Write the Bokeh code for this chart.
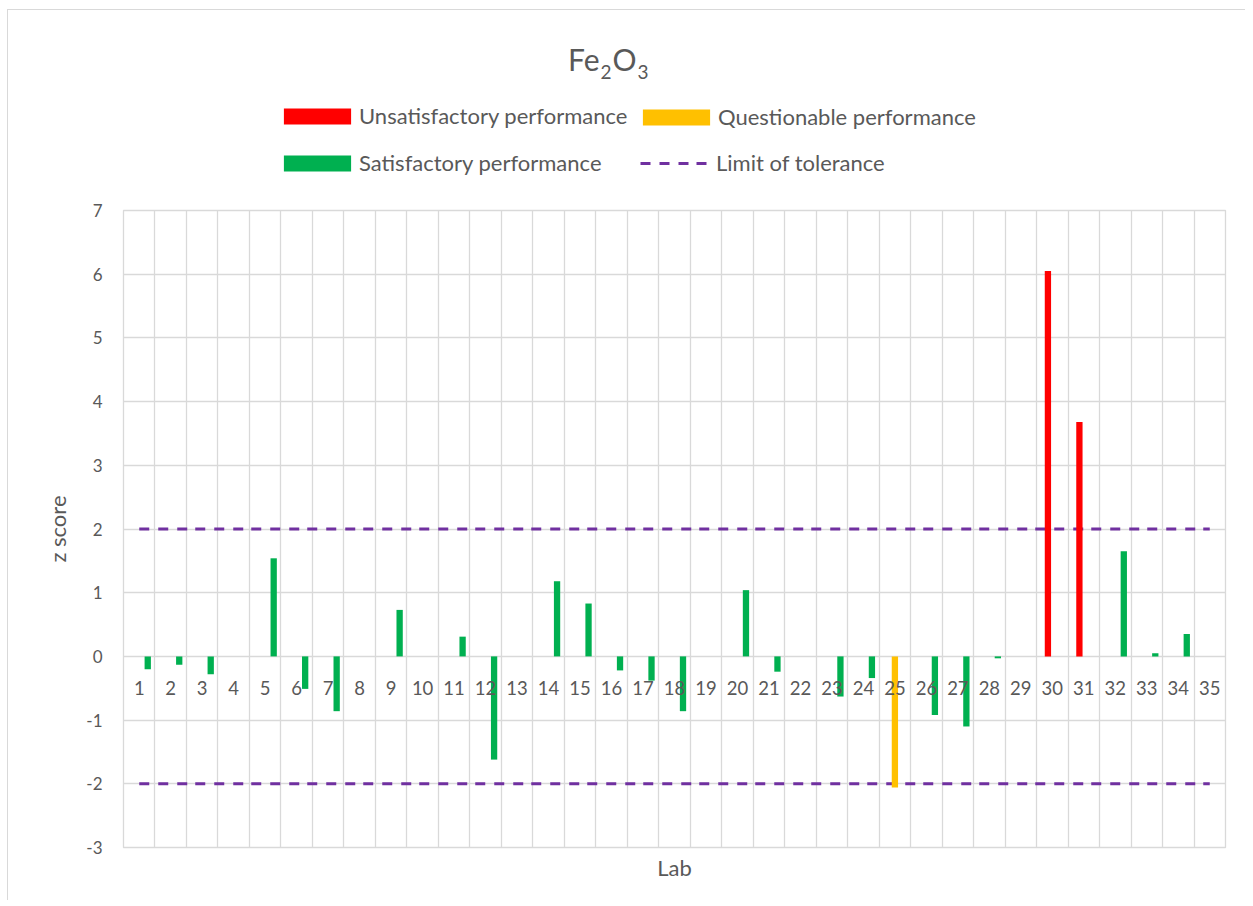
import math
from bokeh.plotting import figure
from bokeh.layouts import column
from bokeh.models import (Range1d, FixedTicker, Legend, LegendItem, Div,
                          ColumnDataSource)
from bokeh.transform import dodge
from bokeh.core.properties import value
from bokeh.embed import file_html
from bokeh.resources import INLINE

# ---------------- data ----------------
labs = list(range(1, 36))
lab_labels = [str(i) for i in labs]
z_scores = [-0.20, -0.13, -0.28, None, 1.54, -0.51, -0.86, None, 0.73, None,
            0.31, -1.62, None, 1.18, 0.83, -0.22, -0.38, -0.86, None, 1.04,
            -0.24, None, -0.63, -0.34, -2.06, -0.92, -1.10, -0.03, None, 6.05,
            3.68, 1.65, 0.05, 0.35, None]
tolerance_limits = [2, -2]
y_ticks = [-3, -2, -1, 0, 1, 2, 3, 4, 5, 6, 7]
y_tick_labels = ["-3", "-2", "-1", "0", "1", "2", "3", "4", "5", "6", "7"]
series_names = ["Unsatisfactory performance", "Questionable performance",
                "Satisfactory performance"]
limit_name = "Limit of tolerance"


def status(z):
    if z is None:
        return None
    a = abs(z)
    if a >= 3:
        return 0
    if a > 2:
        return 1
    return 2


series_values = [[z if status(z) == k else math.nan for z in z_scores] for k in range(3)]

# ---------------- style ----------------
FONT = "Lato"
GREY = "#595959"
GRID = "#d9d9d9"
PURPLE = "#7030A0"
DASH = "10 9 10 9 10 8"
colors = ["#FF0000", "#FFC000", "#00B050"]
offsets = [-0.14, 0.0, 0.27]
x_start, x_end = 0.5, 35.5
y_start, y_end = -3, 7

sources = [ColumnDataSource(dict(lab=labs, top=series_values[k])) for k in range(3)]

# ---------------- main chart ----------------
p = figure(width=1237, height=700,
           x_range=Range1d(x_start, x_end), y_range=Range1d(y_start, y_end),
           output_backend="svg", toolbar_location=None,
           min_border_left=115, min_border_right=20,
           min_border_top=10, min_border_bottom=53, margin=0)
p.outline_line_color = GRID
p.outline_line_width = 1.3
p.background_fill_color = "white"

p.xgrid.ticker = FixedTicker(ticks=[i + 0.5 for i in range(0, 36)])
p.xgrid.grid_line_color = GRID
p.xgrid.grid_line_width = 1.3
p.ygrid.ticker = FixedTicker(ticks=y_ticks)
p.ygrid.grid_line_color = GRID
p.ygrid.grid_line_width = 1.3

p.xaxis.ticker = FixedTicker(ticks=[])
p.xaxis.axis_label = "Lab"
p.xaxis.axis_line_color = None
p.xaxis.major_tick_line_color = None
p.xaxis.minor_tick_line_color = None
p.xaxis.major_tick_out = 0
p.xaxis.axis_label_standoff = 6
p.xaxis.axis_label_text_font = FONT
p.xaxis.axis_label_text_font_size = "22px"
p.xaxis.axis_label_text_font_style = "normal"
p.xaxis.axis_label_text_color = GREY

p.yaxis.ticker = FixedTicker(ticks=y_ticks)
p.yaxis.major_label_overrides = {t: s for t, s in zip(y_ticks, y_tick_labels)}
p.yaxis.axis_line_color = None
p.yaxis.major_tick_line_color = None
p.yaxis.minor_tick_line_color = None
p.yaxis.major_tick_out = 0
p.yaxis.major_tick_in = 0
p.yaxis.major_label_standoff = 21
p.yaxis.major_label_text_font = FONT
p.yaxis.major_label_text_font_size = "17px"
p.yaxis.major_label_text_color = GREY
p.yaxis.axis_label = "z score"
p.yaxis.axis_label_standoff = 12
p.yaxis.axis_label_text_font = FONT
p.yaxis.axis_label_text_font_size = "22px"
p.yaxis.axis_label_text_font_style = "normal"
p.yaxis.axis_label_text_color = GREY

# tolerance limit series (one value per lab, like the spreadsheet series)
for lim in tolerance_limits:
    p.line(x=labs, y=[lim] * len(labs), line_color=PURPLE,
           line_width=3, line_dash=DASH)

for k in range(3):
    p.vbar(x=dodge("lab", offsets[k]), top="top", bottom=0, width=0.2,
           source=sources[k], fill_color=colors[k], line_color=None)

lsrc = ColumnDataSource(dict(lab=labs, txt=lab_labels))
p.text(x="lab", y=0, text="txt", source=lsrc, y_offset=32,
       text_align="center", text_baseline="middle",
       text_font=value(FONT), text_font_size="18.5px", text_color=GREY)

# ---------------- legend strip (same series, hidden glyphs) ----------------
lg = figure(width=1237, height=100, output_backend="svg", toolbar_location=None,
            x_axis_type=None, y_axis_type=None, min_border=0, margin=0,
            x_range=Range1d(x_start, x_end), y_range=Range1d(y_start, y_end))
lg.outline_line_color = None
lg_bars = [lg.vbar(x="lab", top="top", bottom=0, width=0.2, source=sources[k],
                   fill_color=colors[k], line_color=None, visible=False)
           for k in range(3)]
lg_line = lg.line(x=labs, y=[tolerance_limits[0]] * len(labs), line_color=PURPLE,
                  line_width=3, line_dash=DASH, visible=False)

common = dict(orientation="vertical", glyph_height=20,
              label_height=20, spacing=20, padding=0,
              margin=0, border_line_alpha=0, background_fill_alpha=0,
              label_text_font=FONT, label_text_font_size="22px",
              label_text_color=GREY)
leg1 = Legend(items=[LegendItem(label=series_names[0], renderers=[lg_bars[0]]),
                     LegendItem(label=series_names[2], renderers=[lg_bars[2]])],
              location=(152, 24), glyph_width=84, label_standoff=0, **common)
leg2 = Legend(items=[LegendItem(label=series_names[1], renderers=[lg_bars[1]])],
              location=(511, 70), glyph_width=84, label_standoff=0, **common)
leg3 = Legend(items=[LegendItem(label=limit_name, renderers=[lg_line])],
              location=(517, 24), glyph_width=67, label_standoff=9, **common)
for leg in (leg1, leg2, leg3):
    lg.add_layout(leg, "center")

# ---------------- title with subscripts ----------------
sub = "font-size:19px;position:relative;top:8px;margin:0 1px;"
title_html = ('<div style="margin-left:560px;margin-top:34px;line-height:30px;'
              'font-family:Lato;font-size:30px;color:#595959;white-space:nowrap;">'
              f'Fe<span style="{sub}">2</span>O<span style="{sub}">3</span></div>')
title = Div(text=title_html, width=1237, height=90, margin=0)

layout = column(title, lg, p, margin=(9, 0, 0, 7), spacing=0,
                styles={"border-left": "1px solid #d9d9d9",
                        "border-top": "1px solid #d9d9d9",
                        "background-color": "white"})

open("out.html", "w").write(file_html(layout, INLINE))
